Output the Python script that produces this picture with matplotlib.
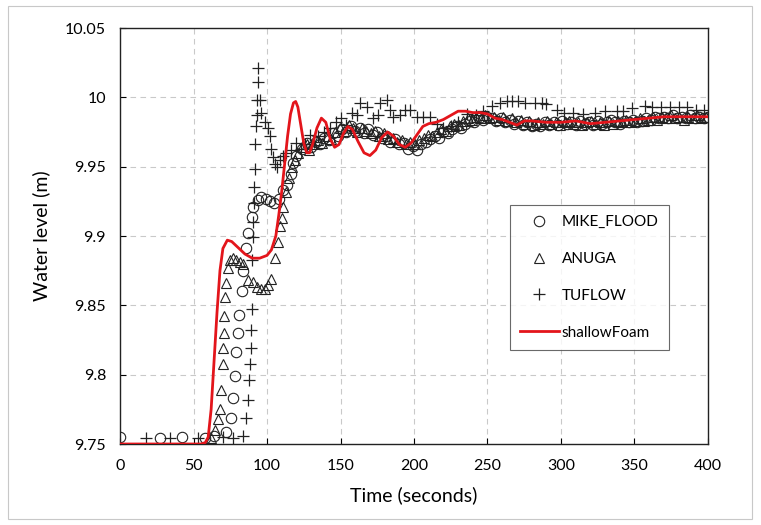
import matplotlib
matplotlib.use("Agg")
import matplotlib.pyplot as plt
from matplotlib.patches import Rectangle

# ---------------- data ----------------
mike_t = [0, 27, 42, 58, 64, 72, 75.5, 77, 78, 79, 80, 81, 82.8, 84, 86, 87, 89.5, 90.6, 94, 96, 99, 102,
          105, 108, 111, 113.6, 116, 118, 120, 123.6, 127,
          130, 133, 136, 139, 142, 145, 148, 151, 154, 157, 160, 163, 166, 169, 172, 175, 178, 181, 184,
          187, 190, 193, 196, 199, 202, 205, 208, 211, 214, 217, 220, 223, 226, 229, 232, 235, 238, 241,
          244, 247, 250, 253, 256, 259, 262, 265, 268, 271, 274, 277, 280, 283, 286, 289, 292, 295, 298,
          301, 304, 307, 310, 313, 316, 319, 322, 325, 328, 331, 334, 337, 340, 343, 346, 349, 352, 355,
          358, 361, 364, 367, 370, 373, 376, 379, 382, 385, 388, 391, 394, 397, 400]
mike_v = [9.755, 9.754, 9.755, 9.754, 9.756, 9.759, 9.769, 9.783, 9.799, 9.816, 9.830, 9.843, 9.860, 9.875,
          9.891, 9.902, 9.914, 9.921, 9.926, 9.928, 9.927, 9.925, 9.924, 9.927, 9.933, 9.937, 9.945,
          9.953, 9.958, 9.963, 9.967,
          9.964, 9.968, 9.966, 9.971, 9.969, 9.974, 9.972, 9.977, 9.975, 9.979, 9.976, 9.978, 9.974,
          9.977, 9.973, 9.975, 9.971, 9.972, 9.968, 9.970, 9.966, 9.967, 9.963, 9.965, 9.962, 9.966,
          9.968, 9.970, 9.972, 9.971, 9.975, 9.974, 9.977, 9.979, 9.978, 9.981, 9.983, 9.982, 9.985,
          9.984, 9.986, 9.985, 9.983, 9.985, 9.982, 9.984, 9.981, 9.983, 9.980, 9.982, 9.979, 9.981,
          9.979, 9.982, 9.980, 9.982, 9.980, 9.983, 9.981, 9.982, 9.980, 9.983, 9.981, 9.982, 9.980,
          9.983, 9.981, 9.982, 9.984, 9.982, 9.981, 9.983, 9.982, 9.984, 9.982, 9.983, 9.985, 9.984,
          9.986, 9.985, 9.986, 9.985, 9.987, 9.985, 9.986, 9.985, 9.987, 9.985, 9.986, 9.985, 9.986]

anuga_t = [62, 64.6, 67, 68, 69, 70, 70.3, 70.6, 71, 71.4, 72, 73.5, 75, 77, 79, 81.6, 84, 87, 90.6, 93,
           96, 98.6, 101, 103, 105.5, 107.7, 109, 110, 111, 113, 115, 117, 119, 121, 124, 127,
           128.5, 131.5, 134.5, 137.5, 140.5, 143.5, 146.5, 149.5, 152.5, 155.5, 158.5, 161.5, 164.5,
           167.5, 170.5, 173.5, 176.5, 179.5, 182.5, 185.5, 188.5, 191.5, 194.5, 197.5, 200.5, 203.5,
           206.5, 209.5, 212.5, 215.5, 218.5, 221.5, 224.5, 227.5, 230.5, 233.5, 236.5, 239.5, 242.5,
           245.5, 248.5, 251.5, 254.5, 257.5, 260.5, 263.5, 266.5, 269.5, 272.5, 275.5, 278.5, 281.5,
           284.5, 287.5, 290.5, 293.5, 296.5, 299.5, 302.5, 305.5, 308.5, 311.5, 314.5, 317.5, 320.5,
           323.5, 326.5, 329.5, 332.5, 335.5, 338.5, 341.5, 344.5, 347.5, 350.5, 353.5, 356.5, 359.5,
           362.5, 365.5, 368.5, 371.5, 374.5, 377.5, 380.5, 383.5, 386.5, 389.5, 392.5, 395.5, 398.5]
anuga_v = [9.754, 9.760, 9.768, 9.775, 9.789, 9.808, 9.819, 9.830, 9.842, 9.856, 9.866, 9.877, 9.883,
           9.884, 9.883, 9.881, 9.880, 9.868, 9.867, 9.863, 9.862, 9.862, 9.865, 9.869, 9.884, 9.896,
           9.907, 9.913, 9.921, 9.932, 9.942, 9.950, 9.955, 9.960, 9.964, 9.966,
           9.962, 9.966, 9.969, 9.967, 9.972, 9.970, 9.975, 9.978, 9.976, 9.980, 9.978, 9.975, 9.978,
           9.976, 9.974, 9.976, 9.972, 9.974, 9.970, 9.971, 9.968, 9.969, 9.966, 9.968, 9.966, 9.969,
           9.971, 9.973, 9.972, 9.975, 9.977, 9.976, 9.979, 9.981, 9.980, 9.983, 9.985, 9.984, 9.986,
           9.985, 9.987, 9.985, 9.986, 9.984, 9.986, 9.983, 9.985, 9.982, 9.984, 9.981, 9.983, 9.980,
           9.982, 9.981, 9.983, 9.981, 9.982, 9.980, 9.982, 9.983, 9.981, 9.982, 9.980, 9.982, 9.983,
           9.981, 9.982, 9.980, 9.983, 9.981, 9.983, 9.982, 9.984, 9.982, 9.983, 9.985, 9.983, 9.984,
           9.986, 9.984, 9.986, 9.985, 9.987, 9.985, 9.986, 9.984, 9.986, 9.985, 9.987, 9.985, 9.986]

tuflow_t = [18, 34, 53, 70, 77, 84, 86, 87, 88, 88.4, 88.8, 89.3, 89.6, 89.6, 90.6, 90.6, 91, 91.3, 92,
            92, 92.5, 93, 93, 94, 94, 95, 96, 98.6, 100.7, 102, 103, 104, 105.5, 107, 109, 111, 113,
            116, 120, 123, 126, 129, 132, 135, 139, 143, 147, 150, 154, 158, 161, 163, 168, 172, 175.6,
            177, 181.6, 184, 186, 190.5, 194, 197, 202, 206, 211, 215.5, 220, 225, 230, 236, 242, 247,
            253, 258.5, 263, 267, 271, 275.5, 282, 287, 290, 297, 302, 308, 315, 323, 330, 338, 342,
            348, 357, 362, 368, 374, 380, 385.5, 392, 397]
tuflow_v = [9.754, 9.754, 9.754, 9.755, 9.754, 9.756, 9.769, 9.782, 9.796, 9.808, 9.819, 9.832, 9.847,
            9.883, 9.899, 9.910, 9.924, 9.935, 9.948, 9.966, 9.979, 9.987, 9.998, 10.011, 10.021, 9.998,
            9.989, 9.982, 9.978, 9.972, 9.963, 9.957, 9.952, 9.950, 9.955, 9.958, 9.960, 9.962, 9.967,
            9.963, 9.966, 9.973, 9.968, 9.972, 9.975, 9.978, 9.982, 9.985, 9.980, 9.989, 9.987, 9.996,
            9.993, 9.985, 9.987, 9.996, 9.998, 9.991, 9.986, 9.987, 9.991, 9.991, 9.986, 9.986, 9.986,
            9.981, 9.978, 9.979, 9.982, 9.988, 9.987, 9.990, 9.994, 9.996, 9.997, 9.997, 9.997, 9.996,
            9.996, 9.996, 9.995, 9.991, 9.989, 9.989, 9.988, 9.989, 9.990, 9.990, 9.990, 9.992, 9.994,
            9.993, 9.993, 9.993, 9.993, 9.993, 9.991, 9.991]

sf_t = [0, 55, 58, 60, 62, 64, 66, 68, 70, 73, 76, 80, 85, 90, 95, 100, 103, 106, 108, 110, 112, 114,
        116, 118, 119.5, 121, 123, 125, 127, 129, 131, 134, 137, 140, 143, 146, 149, 152, 155, 158, 162,
        166, 170, 174, 178, 182, 186, 190, 194, 198, 202, 206, 210, 215, 220, 225, 230, 235, 240, 245,
        250, 255, 260, 265, 270, 275, 280, 290, 300, 310, 320, 330, 340, 350, 360, 370, 380, 390, 400]
sf_v = [9.75, 9.75, 9.751, 9.755, 9.775, 9.81, 9.845, 9.875, 9.891, 9.897, 9.896, 9.892, 9.887, 9.884,
        9.884, 9.886, 9.89, 9.9, 9.915, 9.932, 9.952, 9.972, 9.988, 9.996, 9.997, 9.993, 9.98, 9.967,
        9.96, 9.96, 9.966, 9.978, 9.985, 9.982, 9.97, 9.964, 9.966, 9.974, 9.979, 9.977, 9.968, 9.96,
        9.958, 9.962, 9.971, 9.975, 9.972, 9.966, 9.964, 9.967, 9.973, 9.979, 9.981, 9.982, 9.984,
        9.987, 9.99, 9.99, 9.989, 9.989, 9.988, 9.985, 9.984, 9.982, 9.98, 9.983, 9.983, 9.982, 9.982,
        9.983, 9.981, 9.982, 9.983, 9.984, 9.985, 9.986, 9.986, 9.986, 9.986]

x_ticks = [0, 50, 100, 150, 200, 250, 300, 350, 400]
y_ticks = [9.75, 9.8, 9.85, 9.9, 9.95, 10.0, 10.05]
y_tick_labels = ["9.75", "9.8", "9.85", "9.9", "9.95", "10", "10.05"]

# ---------------- figure ----------------
plt.rcParams['font.family'] = ['Lato', 'DejaVu Sans']

fig = plt.figure(figsize=(7.61, 5.25), dpi=100)
fig.patches.append(Rectangle((8 / 761, 6 / 525), 744 / 761, 513 / 525, transform=fig.transFigure,
                             fill=False, edgecolor='#c8c8c8', linewidth=0.8))
ax = fig.add_axes([120 / 761, 1 - 444 / 525, 588 / 761, 416 / 525])

mk = dict(linestyle='none', markersize=7.5, markerfacecolor='none', markeredgewidth=0.8)
ax.plot(mike_t, mike_v, marker='o', color='#222222', label='MIKE_FLOOD', **mk)
ax.plot(anuga_t, anuga_v, marker='^', color='#222222', label='ANUGA', **mk)
ax.plot(tuflow_t, tuflow_v, marker='+', color='#222222', label='TUFLOW',
        linestyle='none', markersize=9, markeredgewidth=0.9)
ax.plot(sf_t, sf_v, color='#e3151b', linewidth=2.0, label='shallowFoam', zorder=3)

ax.set_xlim(0, 400)
ax.set_ylim(9.75, 10.05)
ax.set_xticks(x_ticks)
ax.set_yticks(y_ticks)
ax.set_yticklabels(y_tick_labels)
ax.tick_params(direction='in', length=4, width=0.8, labelsize=11.5, colors='black')
ax.tick_params(axis='x', pad=11)
ax.tick_params(axis='y', pad=10)
ax.grid(True, color='#c9c9c9', linestyle=(0, (5, 4)), linewidth=0.8)
ax.set_axisbelow(True)
for s in ax.spines.values():
    s.set_linewidth(1.0)
    s.set_color('#222222')

ax.set_xlabel('Time (seconds)', fontsize=14, labelpad=9)
ax.set_ylabel('Water level (m)', fontsize=14, labelpad=11)

leg = ax.legend(loc='upper left', bbox_to_anchor=(0.663, 0.5745), fontsize=11, frameon=True,
                fancybox=False, edgecolor='#444444', labelspacing=1.5, handlelength=2.55,
                handletextpad=0.2, borderpad=0.65, borderaxespad=0)
leg.get_frame().set_linewidth(0.8)

fig.savefig('out.png', dpi=100)
